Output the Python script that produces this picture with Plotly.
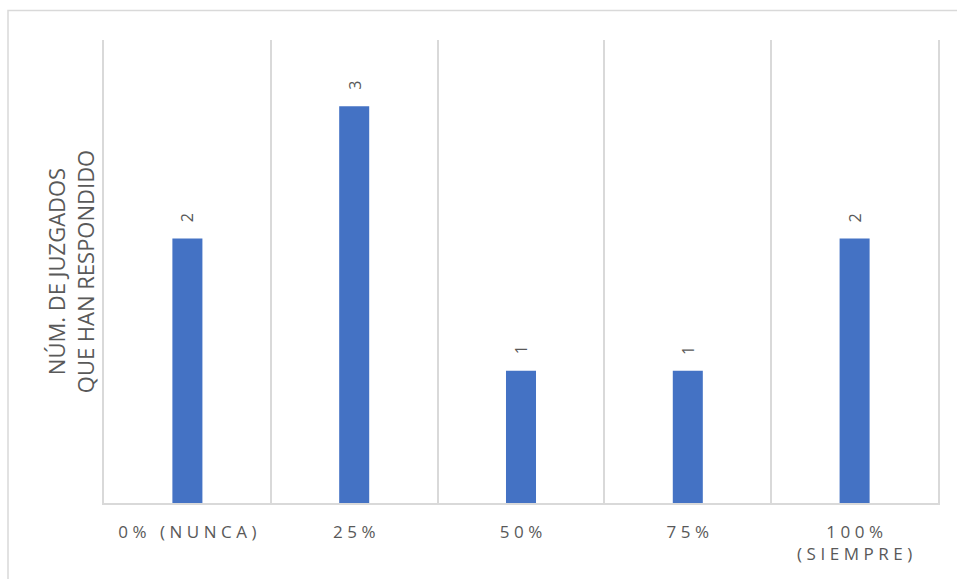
import plotly.graph_objects as go

# Respuestas por frecuencia
categorias = ["0% (NUNCA)", "25%", "50%", "75%", "100%<br>(SIEMPRE)"]
juzgados = [2, 3, 1, 1, 2]
titulo_y = "NÚM. DE JUZGADOS<br>QUE HAN RESPONDIDO"

GAP = "\u2009\u200a"


def espaciar(texto):
    # letter-spaced category labels
    partes = texto.split("<br>")
    return "<br>".join(GAP.join(list(p)) for p in partes)


etiquetas = [espaciar(c) for c in categorias]

AZUL = "#4472C4"
GRIS_TEXTO = "#595959"
GRIS_LINEA = "#D9D9D9"
FUENTE = "Open Sans, Noto Sans, sans-serif"

fig = go.Figure(
    go.Bar(
        x=etiquetas,
        y=juzgados,
        width=0.18,
        marker=dict(color=AZUL, line=dict(width=0)),
        hoverinfo="skip",
    )
)

for x, v in zip(etiquetas, juzgados):
    fig.add_annotation(
        x=x, y=v, text=str(v), textangle=-90, showarrow=False,
        xref="x", yref="y", yanchor="bottom", yshift=14,
        font=dict(size=16, color=GRIS_TEXTO, family=FUENTE),
    )

fig.update_layout(
    width=957, height=579,
    margin=dict(l=104, r=19, t=40, b=76),
    plot_bgcolor="white", paper_bgcolor="white",
    showlegend=False,
    font=dict(family=FUENTE, color=GRIS_TEXTO),
    shapes=[dict(
        type="rect", xref="paper", yref="paper",
        x0=(8 - 104) / 834, x1=(960 - 104) / 834,
        y0=(579 - 590 - 76) / 463, y1=(579 - 10.5 - 76) / 463,
        line=dict(color=GRIS_LINEA, width=1.5), layer="below",
    )],
)

fig.update_xaxes(
    type="category", tickson="boundaries", ticks="",
    showgrid=True, gridcolor=GRIS_LINEA, gridwidth=1.5,
    showline=True, linecolor=GRIS_LINEA, linewidth=1.5,
    tickfont=dict(size=17, color=GRIS_TEXTO, family=FUENTE),
    ticklabelstandoff=13,
    fixedrange=True,
)
fig.update_yaxes(
    range=[0, 3.5], showgrid=False, showticklabels=False, zeroline=False,
    showline=True, mirror=True, linecolor=GRIS_LINEA, linewidth=1.5,
    title=dict(text=titulo_y, font=dict(size=22, color=GRIS_TEXTO, family=FUENTE), standoff=2),
    fixedrange=True,
)

fig.write_html("out.html", config={"displayModeBar": False})
